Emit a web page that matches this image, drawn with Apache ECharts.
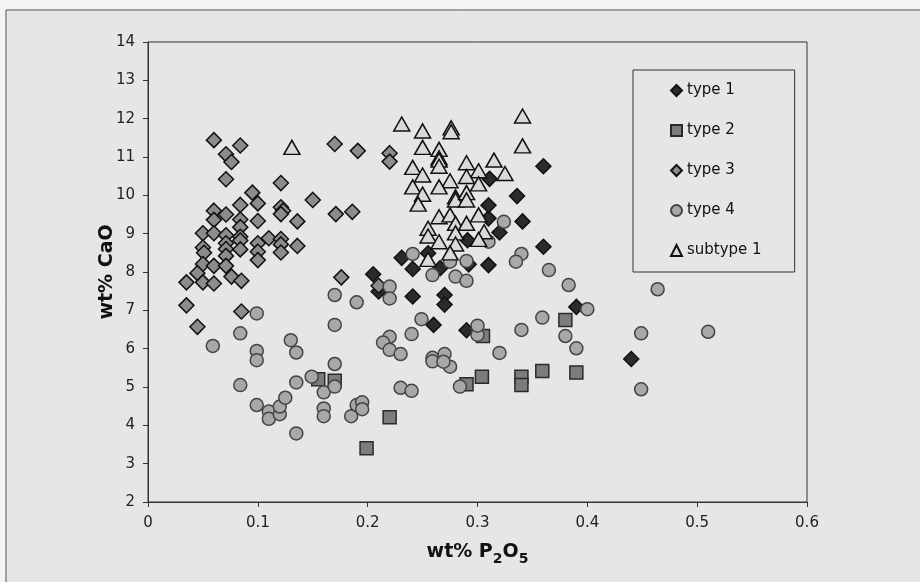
<!DOCTYPE html>
<html>
<head>
<meta charset="utf-8">
<script src="https://cdn.jsdelivr.net/npm/echarts@6/dist/echarts.min.js"></script>
<style>
  html, body { margin: 0; padding: 0; background: #f4f4f4; }
  #chart { width: 920px; height: 582px; }
</style>
</head>
<body>
<div id="chart"></div>
<script>
// [P2O5 wt%, CaO wt%]
var type1 = [
  [0.205, 7.94], [0.210, 7.49], [0.231, 8.37], [0.241, 8.08], [0.241, 7.36], [0.255, 8.49],
  [0.260, 6.62], [0.266, 8.10], [0.270, 7.40], [0.270, 7.15], [0.290, 6.48], [0.291, 8.83],
  [0.292, 8.20], [0.310, 8.18], [0.310, 9.40], [0.310, 9.74], [0.311, 10.43], [0.320, 9.03],
  [0.336, 9.98], [0.341, 9.32], [0.360, 8.66], [0.360, 10.76], [0.390, 7.09], [0.440, 5.73]
];

var type2 = [
  [0.155, 5.20], [0.170, 5.16], [0.199, 3.40], [0.220, 4.21], [0.290, 5.07], [0.304, 5.27],
  [0.305, 6.33], [0.340, 5.27], [0.340, 5.05], [0.359, 5.42], [0.380, 6.75], [0.390, 5.38]
];

var type3 = [
  [0.060, 11.44], [0.084, 11.30], [0.071, 11.07], [0.076, 10.87], [0.071, 10.42], [0.121, 10.32],
  [0.150, 9.88], [0.095, 10.07], [0.100, 9.79], [0.084, 9.75], [0.121, 9.69], [0.123, 9.60],
  [0.121, 9.51], [0.136, 9.32], [0.060, 9.60], [0.071, 9.50], [0.060, 9.36], [0.084, 9.37],
  [0.100, 9.33], [0.084, 9.17], [0.050, 9.01], [0.060, 9.01], [0.071, 8.96], [0.084, 8.92],
  [0.071, 8.75], [0.084, 8.82], [0.100, 8.75], [0.110, 8.88], [0.121, 8.86], [0.121, 8.72],
  [0.136, 8.68], [0.050, 8.64], [0.071, 8.60], [0.084, 8.59], [0.100, 8.53], [0.051, 8.50],
  [0.121, 8.51], [0.071, 8.42], [0.100, 8.31], [0.050, 8.21], [0.060, 8.16], [0.071, 8.16],
  [0.045, 7.97], [0.076, 7.88], [0.035, 7.73], [0.050, 7.73], [0.060, 7.70], [0.085, 7.77],
  [0.035, 7.13], [0.045, 6.57], [0.085, 6.97], [0.176, 7.86], [0.210, 7.64], [0.170, 11.34],
  [0.191, 11.16], [0.220, 11.10], [0.220, 10.88], [0.171, 9.51], [0.186, 9.57]
];

var type4 = [
  [0.099, 6.92], [0.170, 7.40], [0.190, 7.21], [0.220, 7.62], [0.220, 7.31], [0.259, 7.92],
  [0.059, 6.07], [0.084, 6.40], [0.099, 5.94], [0.099, 5.70], [0.130, 6.22], [0.135, 5.90],
  [0.170, 6.62], [0.170, 5.60], [0.249, 6.77], [0.240, 6.38], [0.220, 6.31], [0.214, 6.16],
  [0.220, 5.97], [0.230, 5.86], [0.259, 5.76], [0.259, 5.67], [0.084, 5.05], [0.135, 5.12],
  [0.149, 5.27], [0.160, 4.86], [0.170, 5.01], [0.099, 4.53], [0.110, 4.36], [0.110, 4.17],
  [0.120, 4.29], [0.120, 4.49], [0.125, 4.72], [0.135, 3.79], [0.160, 4.44], [0.160, 4.24],
  [0.185, 4.24], [0.190, 4.53], [0.195, 4.60], [0.195, 4.42], [0.230, 4.98], [0.240, 4.90],
  [0.241, 8.47], [0.275, 8.27], [0.290, 8.29], [0.280, 7.88], [0.290, 7.77], [0.310, 8.79],
  [0.324, 9.31], [0.340, 8.47], [0.335, 8.27], [0.365, 8.05], [0.383, 7.66], [0.270, 5.86],
  [0.275, 5.53], [0.269, 5.66], [0.300, 6.36], [0.300, 6.60], [0.284, 5.01], [0.400, 7.03],
  [0.359, 6.81], [0.340, 6.49], [0.380, 6.33], [0.390, 6.01], [0.320, 5.89], [0.449, 6.40],
  [0.449, 4.94], [0.464, 7.55], [0.510, 6.44]
];

var subtype1 = [
  [0.131, 11.25], [0.231, 11.86], [0.250, 11.68], [0.276, 11.76], [0.276, 11.66], [0.341, 12.07],
  [0.341, 11.29], [0.250, 11.25], [0.265, 11.20], [0.265, 10.98], [0.265, 10.92], [0.265, 10.76],
  [0.241, 10.73], [0.250, 10.53], [0.290, 10.85], [0.315, 10.92], [0.301, 10.64], [0.325, 10.57],
  [0.275, 10.38], [0.290, 10.49], [0.301, 10.30], [0.265, 10.22], [0.241, 10.22], [0.250, 10.03],
  [0.246, 9.77], [0.280, 9.96], [0.280, 9.88], [0.290, 10.07], [0.290, 9.88], [0.265, 9.44],
  [0.275, 9.49], [0.280, 9.27], [0.290, 9.27], [0.301, 9.49], [0.255, 9.14], [0.255, 8.94],
  [0.265, 8.79], [0.280, 9.02], [0.280, 8.73], [0.306, 9.05], [0.301, 8.85], [0.275, 8.50],
  [0.255, 8.33]
];

var seriesNames = ['type 1', 'type 2', 'type 3', 'type 4', 'subtype 1'];

var chart = echarts.init(document.getElementById('chart'));

var font = 'DejaVu Sans, Verdana, sans-serif';

function scatter(name, data, symbol, size, fill, stroke) {
  return {
    name: name,
    type: 'scatter',
    data: data,
    symbol: symbol,
    symbolSize: size,
    itemStyle: { color: fill, borderColor: stroke, borderWidth: 1.5, opacity: 1 },
    emphasis: { disabled: true }
  };
}

var option = {
  backgroundColor: '#f4f4f4',
  animation: false,
  // outer frame of the figure
  graphic: [{
    type: 'rect',
    z: -10,
    shape: { x: 6, y: 10, width: 940, height: 600 },
    style: { fill: '#e6e6e6', stroke: '#555', lineWidth: 1 }
  }],
  grid: {
    left: 148, right: 113, top: 42, bottom: 80,
    show: true, borderColor: '#333', borderWidth: 1, backgroundColor: 'transparent'
  },
  legend: {
    data: seriesNames,
    orient: 'vertical',
    left: 633, top: 70,
    padding: [13, 33, 14, 37],
    itemGap: 25,
    itemWidth: 11, itemHeight: 11,
    borderColor: '#333', borderWidth: 1,
    textStyle: { fontFamily: font, fontSize: 15, color: '#111' }
  },
  xAxis: {
    type: 'value',
    min: 0, max: 0.6, interval: 0.1,
    name: '{b|wt% P}{s|2}{b|O}{s|5}',
    nameLocation: 'middle',
    nameGap: 41,
    nameMoveOverlap: false,
    nameTextStyle: {
      fontFamily: font, fontSize: 19, fontWeight: 'bold', color: '#111',
      rich: {
        b: { fontFamily: font, fontSize: 19, fontWeight: 'bold', color: '#111', lineHeight: 22, verticalAlign: 'top' },
        s: { fontFamily: font, fontSize: 14, fontWeight: 'bold', color: '#111', lineHeight: 16, verticalAlign: 'top', padding: [9, 0, 0, 0] }
      }
    },
    axisLine: { lineStyle: { color: '#333', width: 1 } },
    axisTick: { show: true, length: 5, inside: false, lineStyle: { color: '#333' } },
    axisLabel: { margin: 14, fontFamily: font, fontSize: 15, color: '#222' },
    splitLine: { show: false }
  },
  yAxis: {
    type: 'value',
    min: 2, max: 14, interval: 1,
    name: 'wt% CaO',
    nameLocation: 'middle',
    nameGap: 31,
    nameMoveOverlap: false,
    nameTextStyle: { fontFamily: font, fontSize: 19, fontWeight: 'bold', color: '#111' },
    axisLine: { show: true, lineStyle: { color: '#333', width: 1 } },
    axisTick: { show: true, length: 5, inside: false, lineStyle: { color: '#333' } },
    axisLabel: { margin: 13, fontFamily: font, fontSize: 15, color: '#222' },
    splitLine: { show: false }
  },
  series: [
    scatter('type 1', type1, 'diamond', 15, '#2b2b2b', '#111'),
    scatter('type 2', type2, 'rect', 13, '#7c7c7c', '#2a2a2a'),
    scatter('type 3', type3, 'diamond', 15, '#8c8c8c', '#111'),
    scatter('type 4', type4, 'circle', 13, '#a8a8a8', '#444'),
    scatter('subtype 1', subtype1, 'triangle', [16, 14], '#d9d9d9', '#111')
  ]
};

chart.setOption(option);
</script>
</body>
</html>
